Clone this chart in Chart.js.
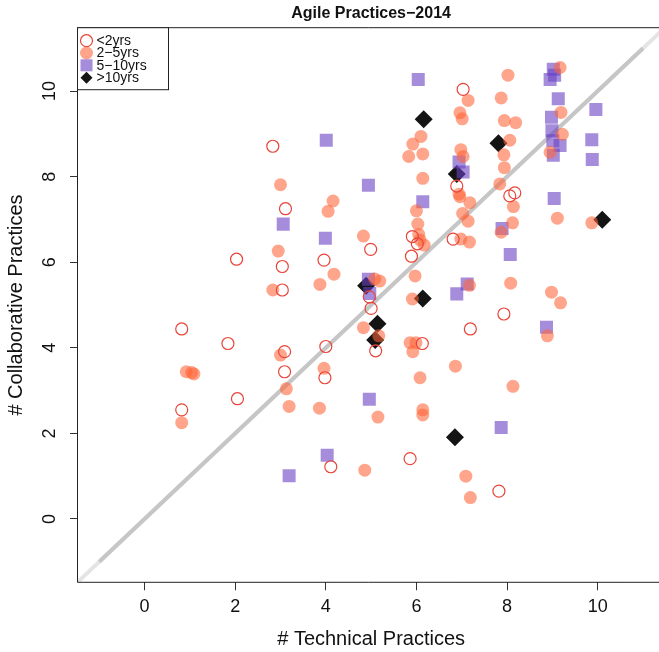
<!doctype html>
<html>
    <head>
        <meta charset="UTF-8" />
        <script src="https://cdn.jsdelivr.net/npm/chart.js"></script>
        <style>
            html, body { margin: 0; padding: 0; background: #fff; overflow: hidden; }
            #agileChart { display: block; width: 659px; height: 652px; }
        </style>
    </head>
    <body>
        <canvas id="agileChart" width="659" height="652"></canvas>
        <script>
            // values, [technical, collaborative]
            const under2 = [
                [2.83, 8.71], [3.11, 7.25], [7.03, 10.04], [8.06, 7.55], [8.17, 7.62],
                [6.89, 7.78], [4.99, 6.30], [3.96, 6.05], [3.04, 5.90], [3.04, 5.35],
                [4.96, 5.19], [5.00, 4.92], [5.10, 3.93], [4.00, 4.03], [3.09, 3.91],
                [3.09, 3.44], [3.98, 3.30], [5.91, 6.60], [6.02, 6.43], [5.89, 6.14],
                [6.13, 4.10], [6.81, 6.54], [7.93, 4.79], [7.19, 4.44], [2.03, 6.07],
                [0.82, 4.44], [1.84, 4.10], [0.82, 2.55], [2.05, 2.81], [4.11, 1.22],
                [5.86, 1.41], [7.82, 0.65]
            ];
            const from2to5 = [
                [6.10, 8.94], [5.92, 8.76], [5.83, 8.47], [6.14, 8.53], [6.14, 7.96],
                [6.00, 7.20], [3.00, 7.81], [4.16, 7.43], [4.05, 7.19], [7.14, 9.78],
                [6.96, 9.49], [7.01, 9.35], [8.02, 10.37], [7.87, 9.84], [7.94, 9.31],
                [8.19, 9.26], [8.06, 8.85], [7.93, 8.51], [7.94, 8.21], [7.84, 7.83],
                [8.14, 7.30], [9.11, 7.03], [9.87, 6.92], [9.17, 10.55], [9.19, 9.50],
                [9.22, 8.99], [8.95, 8.57], [6.98, 8.63], [7.03, 8.47], [6.94, 7.59],
                [6.96, 7.53], [7.18, 7.39], [7.02, 7.14], [7.14, 6.96], [8.12, 6.92],
                [7.87, 6.70], [6.98, 6.54], [7.17, 6.47], [7.17, 5.46], [8.08, 5.51],
                [8.98, 5.30], [9.18, 5.05], [8.89, 4.28], [6.86, 3.57], [8.13, 3.10],
                [4.83, 6.61], [2.95, 6.26], [4.18, 5.72], [3.87, 5.48], [2.83, 5.35],
                [5.08, 5.61], [5.19, 5.56], [4.83, 4.47], [5.17, 4.28], [3.00, 3.83],
                [3.96, 3.52], [3.13, 3.04], [6.03, 6.89], [6.05, 6.65], [6.17, 6.40],
                [6.08, 6.52], [5.97, 5.68], [5.91, 5.14], [5.86, 4.12], [5.99, 4.12],
                [5.92, 3.91], [6.08, 3.30], [0.92, 3.44], [1.04, 3.42], [1.09, 3.39],
                [0.82, 2.25], [3.19, 2.63], [3.86, 2.59], [5.15, 2.38], [6.14, 2.55],
                [6.14, 2.43], [4.86, 1.14], [7.09, 1.00], [7.19, 0.50]
            ];
            const from5to10 = [
                [6.04, 10.27], [4.01, 8.85], [4.94, 7.80], [6.14, 7.41], [3.06, 6.89],
                [9.04, 7.49], [9.02, 10.51], [9.05, 10.37], [8.95, 10.27], [9.13, 9.82],
                [9.96, 9.57], [8.98, 9.39], [8.99, 9.07], [9.01, 8.84], [9.17, 8.73],
                [9.02, 8.50], [9.87, 8.86], [9.88, 8.40], [6.94, 8.34], [7.03, 8.11],
                [3.99, 6.56], [4.94, 5.60], [4.97, 5.27], [4.96, 2.80], [7.89, 6.79],
                [8.07, 6.18], [7.12, 5.49], [6.89, 5.26], [8.87, 4.48], [4.03, 1.49],
                [3.19, 1.01], [7.87, 2.14]
            ];
            const over10 = [
                [6.16, 9.34], [7.81, 8.78], [6.89, 8.06], [10.10, 6.99], [4.89, 5.45],
                [5.14, 4.56], [5.09, 4.18], [6.14, 5.15], [6.85, 1.91]
            ];
            const groupNames = ["<2yrs", "2\u22125yrs", "5\u221210yrs", ">10yrs"];
            const xTicks = [0, 2, 4, 6, 8, 10];
            const yTicks = [0, 2, 4, 6, 8, 10];
            // R pads -1..11 by 4%; the right side runs past the window edge
            const xMin = -1.48, xMax = 11.353;
            const yMin = -1.48, yMax = 11.48;
            const plotMid = 5;

            const toPts = (arr) => arr.map(([x, y]) => ({ x, y }));

            const font = "'Liberation Sans', Arial, sans-serif";
            const redLine = "#e8453a";
            const orangeFill = "rgba(255,100,55,0.58)";
            const purpleFill = "rgba(105,65,195,0.6)";
            const blackFill = "#141414";

            const boxAndLegend = {
                id: "boxAndLegend",
                afterDraw(chart) {
                    const { ctx, chartArea: a } = chart;
                    const xs = chart.scales.x;
                    ctx.save();
                    ctx.lineWidth = 1;
                    ctx.strokeStyle = "#222";
                    ctx.beginPath();
                    ctx.moveTo(a.right + 2, a.top);
                    ctx.lineTo(a.left, a.top);
                    ctx.lineTo(a.left, a.bottom);
                    ctx.lineTo(a.right + 2, a.bottom);
                    ctx.stroke();

                    // titles centred on the middle of the plotting range
                    const cx = xs.getPixelForValue(plotMid);
                    ctx.fillStyle = "#111";
                    ctx.textAlign = "center";
                    ctx.textBaseline = "middle";
                    ctx.font = "bold 16px " + font;
                    ctx.fillText("Agile Practices\u22122014", cx, 13.5);
                    ctx.font = "20px " + font;
                    ctx.fillText("# Technical Practices", cx, 639);

                    // legend box in the top-left corner
                    const lx = a.left, ly = a.top;
                    ctx.fillStyle = "#fff";
                    ctx.fillRect(lx, ly, 91, 62);
                    ctx.strokeStyle = "#222";
                    ctx.strokeRect(lx, ly, 91, 62);
                    const rows = [13, 25.3, 37.6, 50];
                    const sx = lx + 9;
                    rows.forEach((dy, i) => {
                        const y = ly + dy;
                        ctx.beginPath();
                        if (i === 0) {
                            ctx.arc(sx, y, 6, 0, Math.PI * 2);
                            ctx.strokeStyle = redLine;
                            ctx.lineWidth = 1.2;
                            ctx.stroke();
                        } else if (i === 1) {
                            ctx.arc(sx, y, 6.5, 0, Math.PI * 2);
                            ctx.fillStyle = orangeFill;
                            ctx.fill();
                        } else if (i === 2) {
                            ctx.fillStyle = purpleFill;
                            ctx.fillRect(sx - 6, y - 6, 12, 12);
                        } else {
                            ctx.moveTo(sx, y - 6);
                            ctx.lineTo(sx + 6, y);
                            ctx.lineTo(sx, y + 6);
                            ctx.lineTo(sx - 6, y);
                            ctx.closePath();
                            ctx.fillStyle = blackFill;
                            ctx.fill();
                        }
                        ctx.fillStyle = "#111";
                        ctx.font = "14px " + font;
                        ctx.textAlign = "left";
                        ctx.textBaseline = "middle";
                        ctx.fillText(groupNames[i], lx + 19, y + 0.5);
                    });
                    ctx.restore();
                },
            };

            new Chart(document.getElementById("agileChart"), {
                type: "scatter",
                data: {
                    datasets: [
                        {
                            label: groupNames[0],
                            data: toPts(under2),
                            pointStyle: "circle",
                            pointRadius: 6,
                            backgroundColor: "rgba(0,0,0,0)",
                            borderColor: redLine,
                            borderWidth: 1.2,
                        },
                        {
                            label: groupNames[1],
                            data: toPts(from2to5),
                            pointStyle: "circle",
                            pointRadius: 6.5,
                            backgroundColor: orangeFill,
                            borderWidth: 0,
                        },
                        {
                            label: groupNames[2],
                            data: toPts(from5to10),
                            pointStyle: "rect",
                            pointRadius: 9.2,
                            backgroundColor: purpleFill,
                            borderWidth: 0,
                        },
                        {
                            label: groupNames[3],
                            data: toPts(over10),
                            pointStyle: "rectRot",
                            pointRadius: 9,
                            backgroundColor: blackFill,
                            borderWidth: 0,
                        },
                        {
                            label: "diag",
                            data: [{ x: -1, y: -1 }, { x: 11, y: 11 }],
                            showLine: true,
                            pointRadius: 0,
                            borderColor: "#c6c6c6",
                            borderWidth: 4,
                        },
                        {
                            label: "diagFull",
                            data: [{ x: yMin, y: yMin }, { x: yMax, y: yMax }],
                            showLine: true,
                            pointRadius: 0,
                            borderColor: "#e4e4e4",
                            borderWidth: 4,
                        },
                    ],
                },
                options: {
                    responsive: false,
                    animation: false,
                    layout: { autoPadding: false, padding: { left: 0, right: 0, top: 27.7, bottom: 0 } },
                    plugins: {
                        legend: { display: false },
                        tooltip: { enabled: false },
                        title: { display: false },
                    },
                    scales: {
                        x: {
                            type: "linear",
                            min: xMin,
                            max: xMax,
                            afterBuildTicks: (s) => { s.ticks = xTicks.map((v) => ({ value: v })); },
                            afterFit: (s) => { s.height = 69.7; },
                            grid: { drawOnChartArea: false, drawTicks: true, tickLength: 8, color: "#333" },
                            border: { display: false },
                            ticks: {
                                color: "#111",
                                padding: 6,
                                font: { family: font, size: 18 },
                            },
                        },
                        y: {
                            type: "linear",
                            min: yMin,
                            max: yMax,
                            afterBuildTicks: (s) => { s.ticks = yTicks.map((v) => ({ value: v })); },
                            afterFit: (s) => { s.width = 77.5; },
                            grid: { drawOnChartArea: false, drawTicks: true, tickLength: 7.5, color: "#333" },
                            border: { display: false },
                            ticks: {
                                color: "#111",
                                padding: 10,
                                minRotation: 90,
                                maxRotation: 90,
                                crossAlign: "center",
                                font: { family: font, size: 18 },
                            },
                            title: {
                                display: true,
                                text: "# Collaborative Practices",
                                color: "#111",
                                font: { family: font, size: 20, lineHeight: 1.2 },
                                padding: { top: 4.5, bottom: 0 },
                            },
                        },
                    },
                },
                plugins: [boxAndLegend],
            });
        </script>
    </body>
</html>
